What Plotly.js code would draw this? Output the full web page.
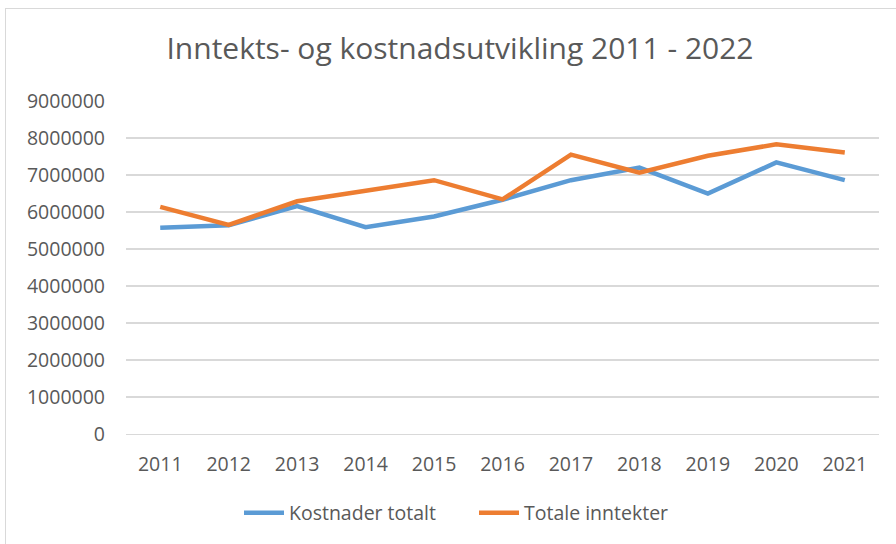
<!DOCTYPE html>
<html>
<head>
<meta charset="utf-8">
<script src="https://cdn.plot.ly/plotly-3.0.1.min.js"></script>
<style>
html,body{margin:0;padding:0;background:#fff;}
#wrap{position:relative;width:896px;height:544px;}
#chart{width:896px;height:544px;}
#frame{position:absolute;left:5px;top:8px;width:900px;height:560px;border:1px solid #d9d9d9;pointer-events:none;box-sizing:border-box;}
</style>
</head>
<body>
<div id="wrap"><div id="chart"></div><div id="frame"></div></div>
<script>
const years = ['2011','2012','2013','2014','2015','2016','2017','2018','2019','2020','2021'];
const kostnader = [5575000, 5640000, 6160000, 5590000, 5880000, 6330000, 6860000, 7200000, 6500000, 7340000, 6860000];
const inntekter = [6140000, 5650000, 6290000, 6560000, 6860000, 6340000, 7550000, 7060000, 7520000, 7830000, 7610000];
const seriesNames = ['Kostnader totalt', 'Totale inntekter'];
const titleText = 'Inntekts- og kostnadsutvikling 2011 - 2022';

const FONT = '"Open Sans", sans-serif';
const txt = '#595959';

const data = [
  {x: years, y: kostnader, name: seriesNames[0], type: 'scatter', mode: 'lines',
   line: {color: '#5B9BD5', width: 4.5}},
  {x: years, y: inntekter, name: seriesNames[1], type: 'scatter', mode: 'lines',
   line: {color: '#ED7D31', width: 4.5}}
];

const layout = {
  width: 896, height: 544,
  margin: {l: 126, r: 17, t: 101, b: 110},
  paper_bgcolor: '#fff', plot_bgcolor: '#fff',
  font: {family: FONT, color: txt, size: 19.5},
  title: {text: titleText, font: {family: FONT, size: 30, color: txt},
          xref: 'container', x: 460/896, xanchor: 'center',
          yref: 'container', y: 1 - 48/544, yanchor: 'middle'},
  xaxis: {type: 'category', range: [-0.5, 10.5], showgrid: false, zeroline: false,
          showline: true, linecolor: '#d9d9d9', linewidth: 1.3, ticks: '',
          ticklabelstandoff: 12, tickfont: {family: FONT, size: 19.5, color: txt}},
  yaxis: {range: [0, 9000000], dtick: 1000000, tickformat: 'd', showgrid: true,
          gridcolor: '#d9d9d9', gridwidth: 1.3, zeroline: false, ticks: '',
          ticklabelstandoff: 20, tickfont: {family: FONT, size: 19.5, color: txt}},
  showlegend: true,
  legend: {orientation: 'h', xref: 'container', yref: 'container',
           x: 474/896, xanchor: 'center', y: 1 - 513/544, yanchor: 'middle',
           font: {family: FONT, size: 19.5, color: txt}, itemwidth: 40,
           entrywidth: 180, entrywidthmode: 'pixels'}
};

Plotly.newPlot('chart', data, layout, {displayModeBar: false, staticPlot: true});
</script>
</body>
</html>
